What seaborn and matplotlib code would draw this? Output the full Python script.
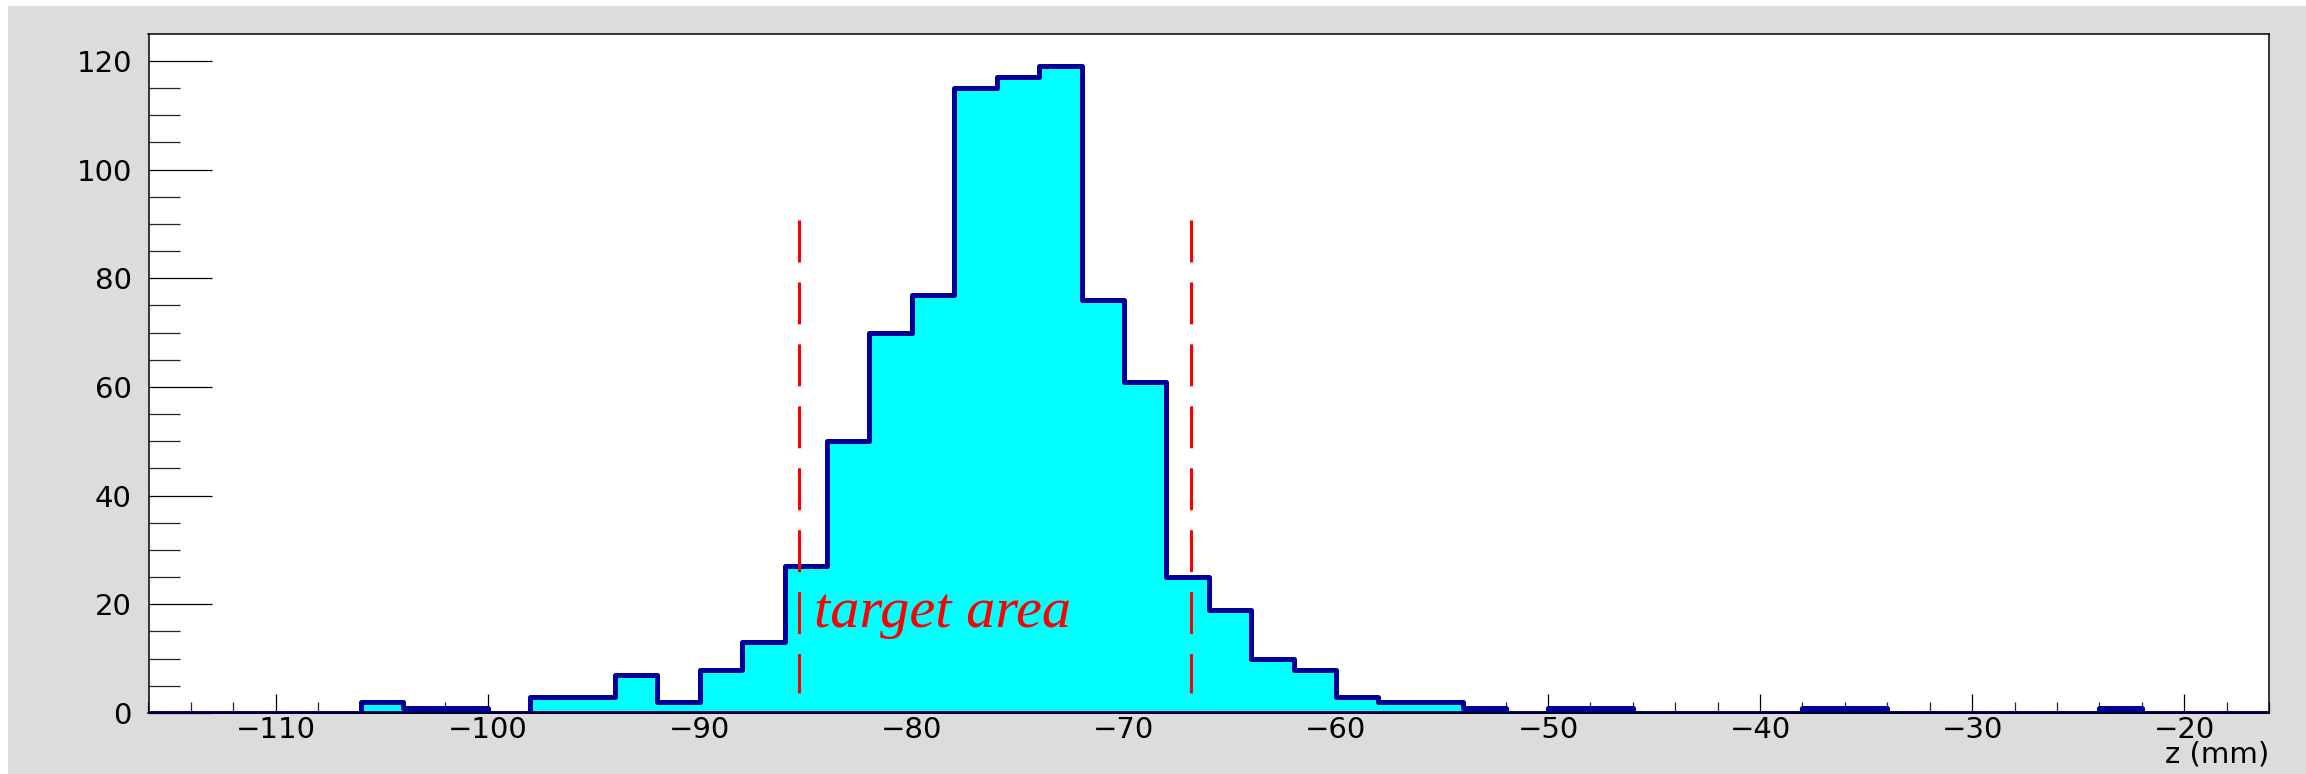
import numpy as np
import pandas as pd
import matplotlib
matplotlib.use("Agg")
import matplotlib.pyplot as plt
from matplotlib.patches import Rectangle
import seaborn as sns

# ---- data ----
bin_edges = list(range(-116, -14, 2))  # 51 edges, 50 bins of 2 mm
counts = [0, 0, 0, 0, 0,          # -116 .. -106
          2, 1, 1, 0, 3,          # -106 .. -96
          3, 7, 2, 8, 13,         # -96 .. -86
          27, 50, 70, 77, 115,    # -86 .. -76
          117, 119, 76, 61, 25,   # -76 .. -66
          19, 10, 8, 3, 2,        # -66 .. -56
          2, 1, 0, 1, 1,          # -56 .. -46
          0, 0, 0, 0, 1,          # -46 .. -36
          1, 0, 0, 0, 0,          # -36 .. -26
          0, 1, 0, 0, 0]          # -26 .. -16
x_ticks = [-110, -100, -90, -80, -70, -60, -50, -40, -30, -20]
y_ticks = [0, 20, 40, 60, 80, 100, 120]
target_edges = [-85.3, -66.85]
target_line_span = [90.7, 3.6]
target_label = "target area"
target_label_pos = (-84.6, 15.8)
x_label = "z (mm)"

centers = [(a + b) / 2 for a, b in zip(bin_edges[:-1], bin_edges[1:])]
df = pd.DataFrame({"z": centers, "n": counts})

sns.set_style("ticks")
plt.rcParams["font.family"] = ["DejaVu Sans"]
plt.rcParams["text.color"] = "black"

W, H, DPI = 2306, 774, 100
fig = plt.figure(figsize=(W / DPI, H / DPI), dpi=DPI, facecolor="white")
fig.patches.append(Rectangle((8 / W, 0), 1 - 8 / W, 1 - 6 / H, transform=fig.transFigure,
                             facecolor="#dcdcdc", edgecolor="none", zorder=-10))

left, right, top, bottom = 148.5, 2269, 34, 713
ax = fig.add_axes([left / W, 1 - bottom / H, (right - left) / W, (bottom - top) / H])
ax.set_facecolor("white")

sns.histplot(data=df, x="z", weights="n", bins=bin_edges, element="step", fill=True,
             color="#00ffff", edgecolor="#000099", linewidth=3.6, alpha=1.0, ax=ax,
             legend=False)

ax.set_xlim(bin_edges[0], bin_edges[-1])
ax.set_ylim(0, max(counts) * 1.05)

# red dashed target lines
for xe in target_edges:
    ax.plot([xe, xe], target_line_span, color="red", lw=2.2,
            ls=(0, (30.2 / 2.2, 14.4 / 2.2)), solid_capstyle="butt",
            dash_capstyle="butt", zorder=5)

ax.text(target_label_pos[0], target_label_pos[1], target_label, color="red",
        family=["Liberation Serif", "DejaVu Serif"], style="italic", fontsize=42,
        ha="left", va="baseline", zorder=6)

# ticks
ax.set_xticks(x_ticks)
ax.set_xticks(np.arange(bin_edges[0], bin_edges[-1] + 0.1, 2), minor=True)
ax.set_yticks(y_ticks)
ax.set_yticks(np.arange(0, 125, 5), minor=True)
ax.tick_params(axis="x", which="major", direction="in", length=13.7, width=0.9,
               labelsize=21, pad=2, colors="black", top=False)
ax.tick_params(axis="x", which="minor", direction="in", length=8, width=0.9, top=False)
ax.tick_params(axis="y", which="major", direction="in", length=45, width=0.9,
               labelsize=21, pad=12, colors="black", right=False)
ax.tick_params(axis="y", which="minor", direction="in", length=22, width=0.9, right=False)

ax.set_xlabel(x_label, loc="right", fontsize=21, labelpad=-2, color="black")
ax.set_ylabel("")

for s in ax.spines.values():
    s.set_visible(True)
    s.set_color("black")
    s.set_linewidth(1.1)

fig.savefig("out.png", dpi=DPI, facecolor=fig.get_facecolor())
